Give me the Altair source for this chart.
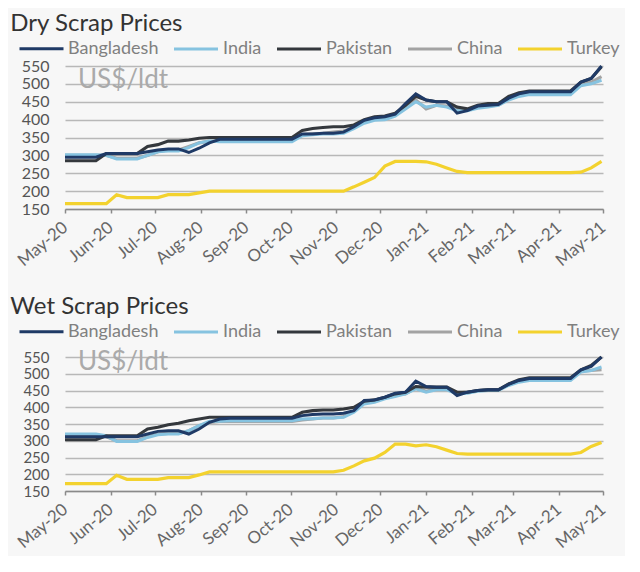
import altair as alt
import pandas as pd

# weekly observation dates, May-20 .. May-21
dates = pd.date_range("2020-05-01", periods=53, freq="7D").strftime("%Y-%m-%dT00:00:00").tolist()

countries = ["Bangladesh", "India", "Pakistan", "China", "Turkey"]
colors = ["#1f3a66", "#86c3e0", "#34383d", "#a3a3a3", "#f3d22e"]
widths = [3.0, 3.2, 2.4, 2.2, 2.8]
draw_order = ["Turkey", "China", "India", "Pakistan", "Bangladesh"]
month_ticks = ["2020-05", "2020-06", "2020-07", "2020-08", "2020-09", "2020-10", "2020-11",
               "2020-12", "2021-01", "2021-02", "2021-03", "2021-04", "2021-05"]
y_ticks = [150, 200, 250, 300, 350, 400, 450, 500, 550]

dry_bangladesh = [295, 295, 295, 295, 305, 305, 305, 305, 310, 315, 318, 318, 308, 320, 335, 345,
                  345, 345, 345, 345, 345, 345, 345, 360, 360, 362, 362, 365, 380, 398, 405, 408,
                  415, 445, 472, 455, 450, 450, 418, 425, 438, 440, 442, 460, 472, 478, 478, 478,
                  478, 478, 505, 515, 550]
dry_india = [302, 302, 302, 302, 300, 290, 290, 290, 300, 310, 312, 312, 322, 335, 340, 338,
             338, 338, 338, 338, 338, 338, 338, 355, 358, 360, 360, 362, 375, 390, 398, 400,
             410, 430, 450, 435, 440, 435, 425, 425, 432, 435, 440, 455, 465, 470, 470, 470,
             470, 470, 495, 500, 510]
dry_pakistan = [285, 285, 285, 285, 305, 305, 305, 305, 325, 330, 340, 340, 343, 348, 350, 350,
                350, 350, 350, 350, 350, 350, 350, 370, 375, 378, 380, 380, 385, 400, 408, 410,
                418, 440, 465, 455, 450, 450, 435, 430, 440, 445, 445, 465, 475, 480, 480, 480,
                480, 480, 505, 515, 548]
dry_china = [300, 300, 300, 300, 300, 292, 292, 292, 300, 310, 315, 315, 325, 335, 340, 340,
             342, 342, 342, 342, 342, 342, 342, 358, 360, 362, 365, 368, 378, 395, 402, 405,
             412, 435, 455, 430, 440, 438, 428, 428, 435, 438, 440, 458, 468, 475, 475, 475,
             475, 475, 500, 505, 520]
dry_turkey = [165, 165, 165, 165, 165, 190, 182, 182, 182, 182, 190, 190, 190, 195, 200, 200,
              200, 200, 200, 200, 200, 200, 200, 200, 200, 200, 200, 200, 212, 225, 238, 270,
              283, 283, 283, 282, 275, 265, 255, 252, 252, 252, 252, 252, 252, 252, 252, 252,
              252, 252, 253, 265, 283]

wet_bangladesh = [312, 312, 312, 312, 312, 312, 312, 312, 320, 328, 330, 330, 320, 335, 355, 365,
                  367, 367, 367, 367, 367, 367, 367, 375, 378, 380, 380, 382, 390, 420, 422, 430,
                  442, 445, 478, 462, 460, 460, 435, 445, 450, 452, 452, 468, 480, 486, 486, 486,
                  486, 486, 512, 522, 550]
wet_india = [320, 320, 320, 320, 315, 298, 298, 298, 310, 318, 320, 320, 330, 345, 358, 358,
             360, 360, 360, 360, 360, 360, 360, 365, 366, 368, 368, 370, 385, 410, 415, 425,
             432, 440, 455, 445, 452, 452, 440, 442, 448, 450, 450, 465, 475, 480, 480, 480,
             480, 480, 505, 510, 520]
wet_pakistan = [303, 303, 303, 303, 315, 315, 315, 315, 335, 340, 348, 352, 360, 365, 370, 370,
                370, 370, 370, 370, 370, 370, 370, 385, 390, 392, 392, 395, 400, 418, 422, 430,
                440, 445, 462, 460, 460, 460, 445, 445, 450, 452, 452, 470, 482, 488, 488, 488,
                488, 488, 512, 525, 550]
wet_china = [318, 318, 318, 318, 312, 300, 300, 300, 312, 320, 322, 322, 330, 345, 355, 358,
             358, 358, 358, 358, 358, 358, 358, 362, 365, 368, 368, 372, 388, 415, 420, 428,
             438, 440, 458, 448, 455, 455, 442, 445, 450, 452, 452, 468, 478, 485, 485, 485,
             485, 485, 508, 510, 512]
wet_turkey = [172, 172, 172, 172, 172, 197, 185, 185, 185, 185, 190, 190, 190, 198, 207, 207,
              207, 207, 207, 207, 207, 207, 207, 207, 207, 207, 207, 212, 225, 240, 248, 265,
              290, 290, 285, 288, 282, 272, 262, 260, 260, 260, 260, 260, 260, 260, 260, 260,
              260, 260, 265, 283, 295]

dry = {"Bangladesh": dry_bangladesh, "India": dry_india, "Pakistan": dry_pakistan,
       "China": dry_china, "Turkey": dry_turkey}
wet = {"Bangladesh": wet_bangladesh, "India": wet_india, "Pakistan": wet_pakistan,
       "China": wet_china, "Turkey": wet_turkey}


def to_dt(s):
    y, m = s.split("-")
    return alt.DateTime(year=int(y), month=int(m), date=1)


def panel(title, series, h, legend_y, title_offset, unit_y, ylab_size):
    rows = []
    for c in draw_order:
        for d, v in zip(dates, series[c]):
            rows.append({"date": d, "country": c, "price": v})
    df = pd.DataFrame(rows)

    lines = alt.Chart(df).mark_line().encode(
        x=alt.X("date:T",
                scale=alt.Scale(domain=[to_dt(month_ticks[0]), to_dt(month_ticks[-1])], nice=False),
                axis=alt.Axis(values=[to_dt(m) for m in month_ticks], format="%b-%y", title=None,
                              labelAngle=-40, labelAlign="right", labelBaseline="middle",
                              labelFontSize=17, labelFont="Lato", labelColor="#666666",
                              labelPadding=12, labelFlush=False, labelOverlap=False,
                              grid=False, domainColor="#8a8a8a", domainWidth=1.5,
                              tickColor="#8a8a8a", tickSize=4, tickWidth=1.5)),
        y=alt.Y("price:Q",
                scale=alt.Scale(domain=[150, 550], nice=False, zero=False),
                axis=alt.Axis(values=y_ticks, title=None, grid=True, gridColor="#b8b8b8",
                              gridWidth=1.5, domain=False, ticks=False, labelFontSize=ylab_size,
                              labelFont="Lato", labelColor="#555555", labelPadding=16,
                              labelOverlap=False, labelBound=False)),
        color=alt.Color("country:N",
                        scale=alt.Scale(domain=countries, range=colors),
                        legend=alt.Legend(title=None, orient="none", direction="horizontal",
                                          legendX=-47, legendY=legend_y,
                                          symbolType="stroke", symbolSize=1936,
                                          symbolStrokeWidth=2.5, labelFontSize=18,
                                          labelFont="Lato", labelColor="#808080",
                                          columnPadding=8, labelOffset=3)),
        strokeWidth=alt.StrokeWidth("country:N",
                                    scale=alt.Scale(domain=countries, range=widths),
                                    legend=None),
    )

    unit = alt.Chart(pd.DataFrame({"t": ["US$/ldt"]})).mark_text(
        align="left", baseline="alphabetic", fontSize=26, font="Lato", color="#aaaaaa"
    ).encode(text="t:N", x=alt.value(13), y=alt.value(unit_y))

    return alt.layer(unit, lines).properties(
        width=538, height=h,
        title=alt.TitleParams(title, anchor="start", fontSize=24, font="Lato",
                              color="#333333", fontWeight="normal", offset=title_offset, dx=-4),
    )


top = panel("Dry Scrap Prices", dry, 143, -41, -11, 22, 16)
bottom = panel("Wet Scrap Prices", wet, 134, -49, -11, 13, 15)

chart = alt.vconcat(top, bottom, spacing=26).resolve_scale(
    color="independent", strokeWidth="independent"
).resolve_legend(color="independent").properties(
    background="#f7f7f7",
    padding={"left": 2, "top": 4, "right": 5, "bottom": 5},
).configure_view(stroke=None)

chart.save("out.html", embed_options={"renderer": "svg", "actions": False})
